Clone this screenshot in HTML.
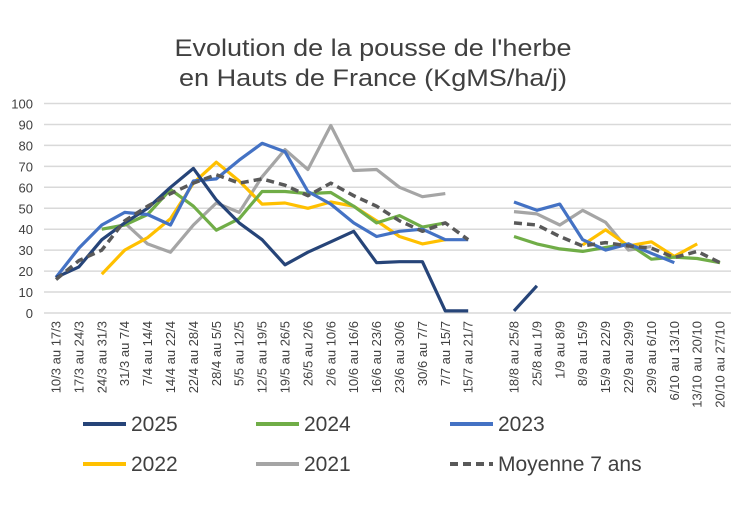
<!DOCTYPE html>
<html><head><meta charset="utf-8"><style>
body{margin:0;background:#fff;}
svg{display:block;font-family:"Liberation Sans",sans-serif;}
</style></head><body>
<svg id="c" width="747" height="508" viewBox="0 0 747 508" xmlns="http://www.w3.org/2000/svg">
<text x="373" y="56" font-size="24" fill="#404040" text-anchor="middle" textLength="397" lengthAdjust="spacingAndGlyphs">Evolution de la pousse de l'herbe</text>
<text x="373" y="86" font-size="24" fill="#404040" text-anchor="middle" textLength="388" lengthAdjust="spacingAndGlyphs">en Hauts de France (KgMS/ha/j)</text>
<g id="g"></g>
</svg>
<script>
const NS="http://www.w3.org/2000/svg";
const g=document.getElementById('g');
function el(t,a,txt){const e=document.createElementNS(NS,t);for(const k in a)e.setAttribute(k,a[k]);if(txt!=null)e.textContent=txt;g.appendChild(e);return e;}
const X=i=>56+i*22.9, Y=v=>313-2.095*v;
for(let v=0;v<=100;v+=10){
 el('line',{x1:44,x2:731,y1:Y(v),y2:Y(v),stroke:'#d9d9d9','stroke-width':1.5});
 el('text',{x:33,y:Y(v)+5,'font-size':13,fill:'#404040','text-anchor':'end'},String(v));
}
const labs=["10/3 au 17/3","17/3 au 24/3","24/3 au 31/3","31/3 au 7/4","7/4 au 14/4","14/4 au 22/4","22/4 au 28/4","28/4 au 5/5","5/5 au 12/5","12/5 au 19/5","19/5 au 26/5","26/5 au 2/6","2/6 au 10/6","10/6 au 16/6","16/6 au 23/6","23/6 au 30/6","30/6 au 7/7","7/7 au 15/7","15/7 au 21/7","","18/8 au 25/8","25/8 au 1/9","1/9 au 8/9","8/9 au 15/9","15/9 au 22/9","22/9 au 29/9","29/9 au 6/10","6/10 au 13/10","13/10 au 20/10","20/10 au 27/10"];
labs.forEach((l,i)=>{if(!l)return;const x=X(i)+4.5,y=321;
 el('text',{x:x,y:y,'font-size':13,fill:'#404040','text-anchor':'end',transform:`rotate(-90 ${x} ${y})`},l);});
const N=null;
const S=[
 ['#a5a5a5',false,[N,N,N,43,33,29,42,52.5,48,65,78,68.5,89.5,68,68.5,60,55.5,57,N,N,48.4,47.3,42,49,43.3,30,31.7,N,N,N]],
 ['#ffc000',false,[N,N,18.5,30,36,45,62,72,63,52,52.5,50,53,51,44,36.5,33,35,N,N,N,N,N,32.5,39.7,32,34,27,33,N]],
 ['#70ad47',false,[N,N,40,42,47,59,51,39.5,45,58,58,57,57.5,51,43,46.5,41,43,N,N,36.5,33,30.6,29.4,31.3,33,25.7,26.7,26,24]],
 ['#4472c4',false,[17,31,42,48,47,42,63,64,73,81,77,58,52,43,36.5,39,40,35,35,N,53,49,52,35,30,33,28.5,24,N,N]],
 ['#264478',false,[17,22,35,43,50,60,69,54,43,35,23,29,34,39,24,24.5,24.5,1,1,N,1,13,N,N,N,N,N,N,N,N]],
 ['#595959',true,[16,25,30,44,51,57,62,66,62,64,61,56,62,56,51,44,39,43,35,N,43,42,36.5,32,33.6,32,31,26.5,29.4,24]]
];
S.forEach(([c,d,v])=>{let segs=[],cur=[];v.forEach((y,i)=>{if(y==null){if(cur.length)segs.push(cur);cur=[];}else cur.push(X(i).toFixed(1)+','+Y(y).toFixed(1));});if(cur.length)segs.push(cur);
 segs.forEach(s=>{const a={points:s.join(' '),fill:'none',stroke:c,'stroke-width':3.2,'stroke-linejoin':'round'};if(d){a['stroke-dasharray']='8,5';a['stroke-width']=3.5;}el('polyline',a);});});
const L=[['2025','#264478',83,424,false],['2024','#70ad47',256,424,false],['2023','#4472c4',450,424,false],['2022','#ffc000',83,464,false],['2021','#a5a5a5',256,464,false],['Moyenne 7 ans','#595959',450,464,true]];
L.forEach(([t,c,x,y,d])=>{const a={x1:x,x2:x+43,y1:y,y2:y,stroke:c,'stroke-width':4};if(d)a['stroke-dasharray']='8,5';el('line',a);
 el('text',{x:x+48,y:y+7,'font-size':21,fill:'#404040'},t);});
</script>
</body></html>
